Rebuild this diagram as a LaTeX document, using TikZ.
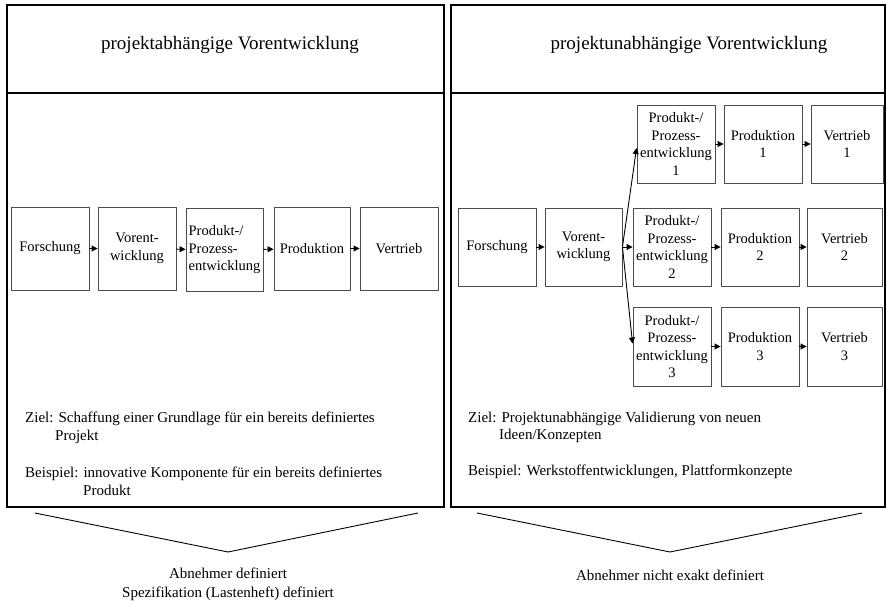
\documentclass[tikz,border=0pt]{standalone}
\usepackage{fontspec}
\setmainfont{Liberation Serif}
\usetikzlibrary{arrows.meta}
\begin{document}
\begin{tikzpicture}[x=1pt,y=-1pt,
  panel/.style={draw=black,line width=1.6pt},
  divider/.style={draw=black,line width=1.2pt},
  stage/.style={draw=black!70,line width=0.9pt,inner sep=0pt,align=center,
    font=\fontsize{14.5}{17.5}\selectfont},
  flow/.style={-{Triangle[length=6pt,width=6pt]},line width=0.9pt},
  heading/.style={anchor=base,inner sep=0pt,font=\fontsize{19}{22}\selectfont},
  note/.style={anchor=base west,inner sep=0pt,font=\fontsize{15}{18}\selectfont},
  caption/.style={anchor=base,inner sep=0pt,font=\fontsize{15}{18}\selectfont},
  funnel/.style={draw=black,line width=0.9pt}]
\useasboundingbox (0,0) rectangle (887,604);

% panel frames with header rows
\draw[panel] (7,5) rectangle (444,507);
\draw[divider] (7,93) -- (444,93);
\draw[panel] (451,5) rectangle (885,507);
\draw[divider] (451,93) -- (885,93);

\node[heading] (lhead) at (230,50) {projektabhängige Vorentwicklung};
\node[heading] (rhead) at (689,50) {projektunabhängige Vorentwicklung};

% left chain
\node[stage,minimum width=78pt,minimum height=83pt] (lf) at (50,248.5) {Forschung};
\node[stage,minimum width=78pt,minimum height=83pt] (lv) at (137,248.5) {Vorent-\\wicklung};
\node[stage,minimum width=77pt,minimum height=83pt,align=left] (lp) at (224.5,250) {Produkt-/\\Prozess-\\entwicklung};
\node[stage,minimum width=76pt,minimum height=83pt] (lpr) at (312,248.5) {Produktion};
\node[stage,minimum width=78pt,minimum height=83pt] (lve) at (399,248.5) {Vertrieb};
\draw[flow] (lf) -- (lv);
\draw[flow] (lv) -- (lp);
\draw[flow] (lp) -- (lpr);
\draw[flow] (lpr) -- (lve);

% right: common start
\node[stage,minimum width=78pt,minimum height=78pt] (rf) at (497,247) {Forschung};
\node[stage,minimum width=77pt,minimum height=78pt] (rv) at (583.5,247) {Vorent-\\wicklung};

% right: branch 1
\node[stage,minimum width=78pt,minimum height=78pt] (p1) at (676,144) {Produkt-/\\Prozess-\\entwicklung\\1};
\node[stage,minimum width=78pt,minimum height=78pt] (q1) at (763,144) {Produktion\\1};
\node[stage,minimum width=72pt,minimum height=78pt] (v1) at (847,144) {Vertrieb\\1};

% right: branch 2
\node[stage,minimum width=78pt,minimum height=78pt] (p2) at (672,247) {Produkt-/\\Prozess-\\entwicklung\\2};
\node[stage,minimum width=78pt,minimum height=78pt] (q2) at (760,247) {Produktion\\2};
\node[stage,minimum width=75pt,minimum height=78pt] (v2) at (844.5,247) {Vertrieb\\2};

% right: branch 3
\node[stage,minimum width=78pt,minimum height=79pt] (p3) at (672,346.5) {Produkt-/\\Prozess-\\entwicklung\\3};
\node[stage,minimum width=78pt,minimum height=79pt] (q3) at (760,346.5) {Produktion\\3};
\node[stage,minimum width=75pt,minimum height=79pt] (v3) at (844.5,346.5) {Vertrieb\\3};

\draw[flow] (rf) -- (rv);
\draw[flow] (rv.east) -- ([yshift=-4pt]p1.west);
\draw[flow] (rv.east) -- (p2.west);
\draw[flow] (rv.east) -- ([yshift=3pt]p3.west);
\draw[flow] (p1) -- (q1);
\draw[flow] (q1) -- (v1);
\draw[flow] (p2) -- (q2);
\draw[flow] (q2) -- (v2);
\draw[flow] (p3) -- (q3);
\draw[flow] (q3) -- (v3);

% goal and example notes
\node[note] (lz1) at (25,422) {Ziel: Schaffung einer Grundlage für ein bereits definiertes};
\node[note] (lz2) at (55,440) {Projekt};
\node[note] (lb1) at (25,477) {Beispiel: innovative Komponente für ein bereits definiertes};
\node[note] (lb2) at (83,495) {Produkt};

\node[note] (rz1) at (468,422) {Ziel: Projektunabhängige Validierung von neuen};
\node[note] (rz2) at (499,439) {Ideen/Konzepten};
\node[note] (rb1) at (468,475) {Beispiel: Werkstoffentwicklungen, Plattformkonzepte};

% funnels below the panels
\coordinate (la) at (35,513);
\coordinate (lb) at (418,513);
\coordinate (lc) at (228,552);
\draw[funnel] (la) -- (lc) -- (lb);
\coordinate (ra) at (477,513);
\coordinate (rb) at (862,513);
\coordinate (rc) at (670,552);
\draw[funnel] (ra) -- (rc) -- (rb);

\node[caption] (lcap1) at (228,578) {Abnehmer definiert};
\node[caption] (lcap2) at (228,597) {Spezifikation (Lastenheft) definiert};
\node[caption] (rcap) at (670,580) {Abnehmer nicht exakt definiert};
\end{tikzpicture}
\end{document}
